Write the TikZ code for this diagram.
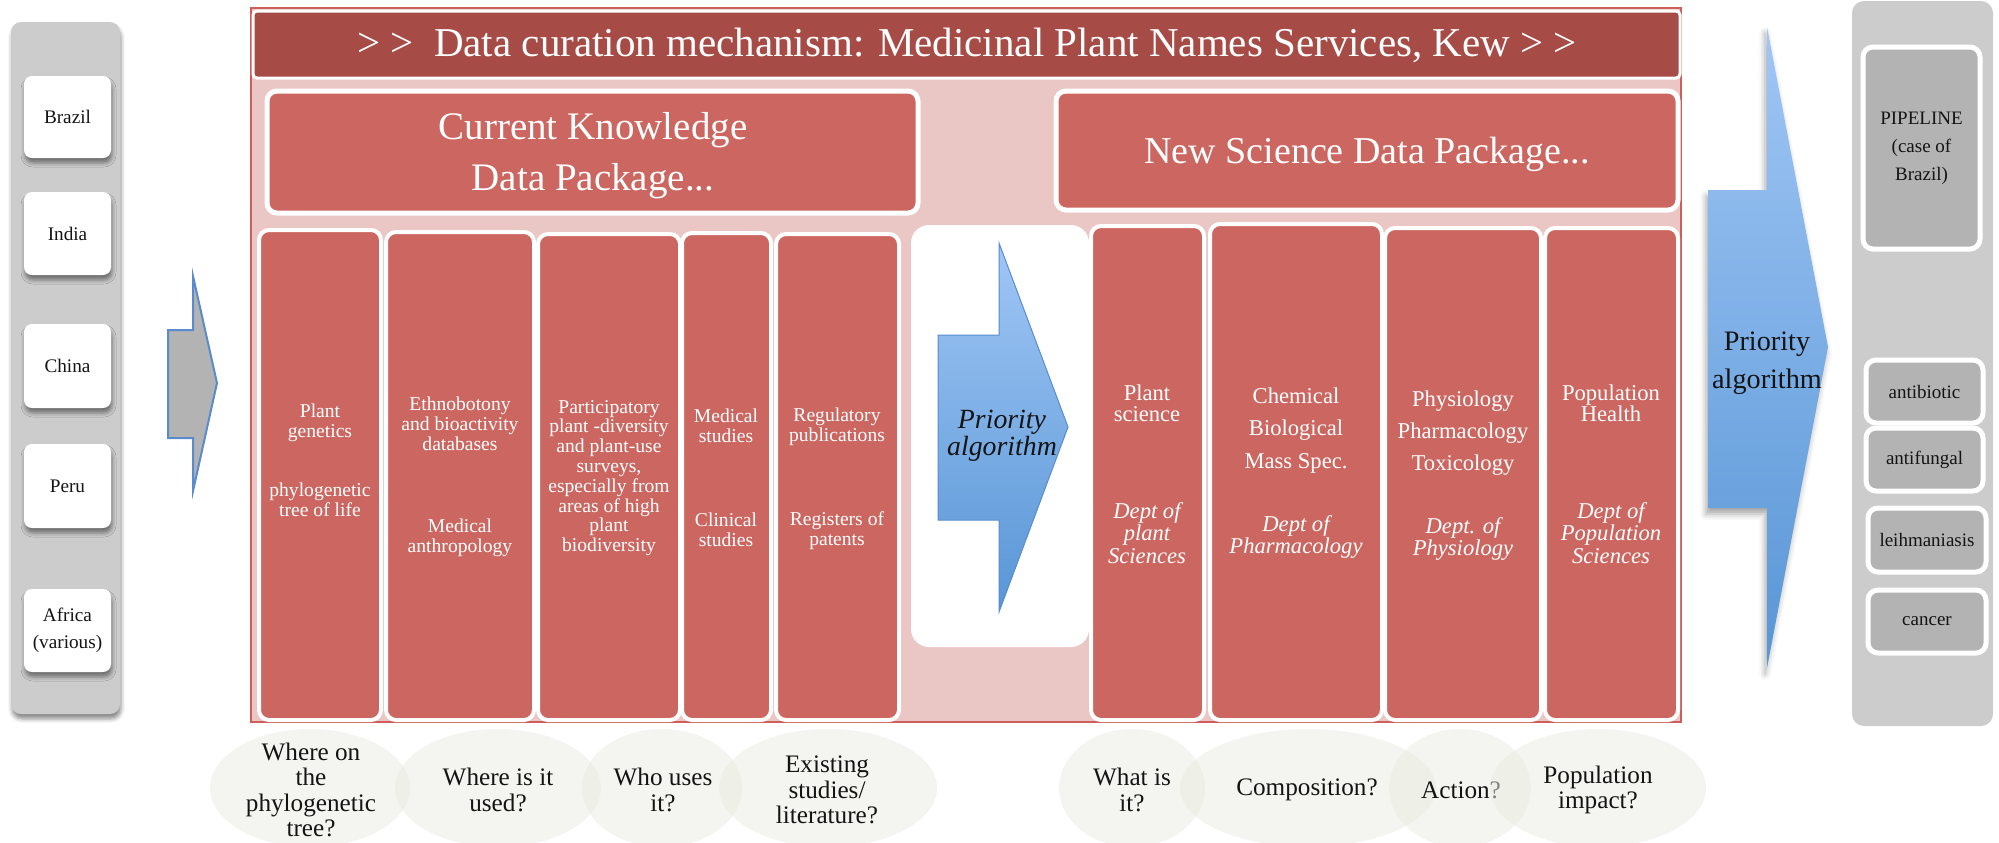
\documentclass[tikz,border=0pt]{standalone}
\usepackage{fontspec}
\setmainfont{Liberation Serif}
\usetikzlibrary{fit,shapes.geometric,shadows,shadows.blur}

\definecolor{kewdark}{RGB}{166,75,69}
\definecolor{kewred}{RGB}{204,102,96}
\definecolor{kewpink}{RGB}{234,198,197}
\definecolor{kewedge}{RGB}{205,95,90}
\definecolor{panelgray}{RGB}{204,204,204}
\definecolor{boxgray}{RGB}{179,179,179}
\definecolor{bluelite}{RGB}{160,198,245}
\definecolor{bluedark}{RGB}{88,150,214}
\definecolor{blueedge}{RGB}{88,140,205}
\definecolor{bubble}{RGB}{231,233,222}
\definecolor{ink}{RGB}{20,20,20}

\tikzset{
  softshadow/.style={blur shadow={shadow xshift=0.5pt, shadow yshift=-2.5pt,
      shadow blur radius=2pt, shadow opacity=45}},
  grouppanel/.style={fill=panelgray, draw=none, rounded corners=5pt, inner sep=0pt},
  country/.style={fill=white, draw=none, rounded corners=4pt, inner sep=0pt, softshadow},
  countrytext/.style={align=center, text=ink, inner sep=0pt, font=\fontsize{9.6}{13.5}\selectfont},
  curation/.style={fill=kewpink, draw=kewedge, line width=0.8pt, inner sep=0pt},
  titlebar/.style={fill=kewdark, draw=white, line width=1.5pt, rounded corners=2pt, inner sep=0pt},
  titletext/.style={text=white, inner sep=0pt, font=\fontsize{20.5}{24}\selectfont},
  package/.style={fill=kewred, draw=white, line width=2.5pt, rounded corners=5pt, inner sep=0pt},
  packagetext/.style={text=white, align=center, inner sep=0pt},
  column/.style={fill=kewred, draw=white, line width=2pt, rounded corners=5pt, inner sep=0pt},
  whitebox/.style={fill=white, draw=none, rounded corners=9pt, inner sep=0pt},
  coltext/.style={text=white, align=center, inner sep=0pt, font=\fontsize{9.8}{9.9}\selectfont},
  sciencetext/.style={text=white, align=center, inner sep=0pt},
  pipebox/.style={fill=boxgray, draw=white, line width=2.5pt, rounded corners=5pt, inner sep=0pt},
  pipetext/.style={align=center, text=ink, inner sep=0pt, font=\fontsize{9.5}{14}\selectfont},
  question/.style={ellipse, fill=bubble, fill opacity=0.45, draw=none, inner sep=0pt},
  qtext/.style={text=ink, align=center, inner sep=0pt, font=\fontsize{12.6}{12.8}\selectfont},
}

\begin{document}
\begin{tikzpicture}[x=0.5pt, y=-0.5pt]
\useasboundingbox (0,0) rectangle (1999,842);

% ---- source countries ----
\node[grouppanel, softshadow, fit={(11,22) (120,714)}] (sources) {};
\node[country, fit={(24,76) (111,158)}]  (brazil) {};
\node[country, fit={(24,192) (111,275)}] (india)  {};
\node[country, fit={(24,324) (111,408)}] (china)  {};
\node[country, fit={(24,444) (111,528)}] (peru)   {};
\node[country, fit={(24,589) (111,672)}] (africa) {};
\node[countrytext] (brazilt) at (brazil.center) {Brazil};
\node[countrytext] (indiat)  at (india.center)  {India};
\node[countrytext] (chinat)  at (china.center)  {China};
\node[countrytext] (perut)   at (peru.center)   {Peru};
\node[countrytext] (africat) at (africa.center) {Africa\\(various)};

% block arrow into the curation mechanism
\draw[fill=boxgray, draw=blueedge, line width=1pt, line join=miter]
  (168,330) -- (193,330) -- (193,276) -- (217,383) -- (193,491) -- (193,438) -- (168,438) -- cycle;

% ---- curation mechanism ----
\node[curation, fit={(251,8) (1681,722)}] (mechanism) {};
\node[titlebar, fit={(253,11) (1680,78)}] (title) {};
\node[titletext] (titlet) at (967,45)
  {> >\ \ Data curation mechanism: Medicinal Plant Names Services, Kew > >};

\node[package, fit={(267,91) (918,213)}] (current) {};
\node[package, fit={(1056,91) (1678,210)}] (newsci) {};
\node[packagetext, font=\fontsize{19.5}{25.5}\selectfont] (currentt) at (593,156)
  {Current Knowledge\\Data Package...};
\node[packagetext, font=\fontsize{19}{24}\selectfont] (newscit) at (1367,154)
  {New Science Data Package...};

% current knowledge columns
\node[column, fit={(259,230) (381,720)}] (c1) {};
\node[column, fit={(386,232) (534,720)}] (c2) {};
\node[column, fit={(538,234) (680,720)}] (c3) {};
\node[column, fit={(682,233) (771,720)}] (c4) {};
\node[column, fit={(776,234) (899,720)}] (c5) {};

\node[coltext] (t1a) at (320,423)   {Plant\\genetics};
\node[coltext] (t1b) at (320,499.5) {phylogenetic\\tree of life};
\node[coltext] (t2a) at (460,424)   {Ethnobotony\\and bioactivity\\databases};
\node[coltext] (t2b) at (460,537.5) {Medical\\anthropology};
\node[coltext] (t3)  at (609,478)   {Participatory\\plant -diversity\\and plant-use\\surveys,\\especially from\\areas of high\\plant\\biodiversity};
\node[coltext] (t4a) at (726,425.5) {Medical\\studies};
\node[coltext] (t4b) at (726,529.5) {Clinical\\studies};
\node[coltext] (t5a) at (837,426.5) {Regulatory\\publications};
\node[coltext] (t5b) at (837,531)   {Registers of\\patents};

% priority algorithm between the packages
\node[whitebox, fit={(911,225) (1089,647)}] (priobox) {};
\path[top color=bluelite, bottom color=bluedark, draw=blueedge, line width=0.5pt, line join=miter]
  (938,335) -- (999,335) -- (999,243) -- (1068,427) -- (999,612) -- (999,520) -- (938,520) -- cycle;
\node[text=ink, align=center, inner sep=0pt, font=\fontsize{13.9}{13.6}\selectfont\itshape]
  (priotext) at (1002,436) {Priority\\algorithm};

% new science columns
\node[column, fit={(1091,226) (1204,720)}] (c6) {};
\node[column, fit={(1210,224) (1382,720)}] (c7) {};
\node[column, fit={(1385,228) (1541,720)}] (c8) {};
\node[column, fit={(1545,228) (1678,720)}] (c9) {};

\node[sciencetext, font=\fontsize{11.3}{10.6}\selectfont] (t6a) at (1147,403.5) {Plant\\science};
\node[sciencetext, font=\fontsize{11.3}{11.4}\selectfont\itshape] (t6b) at (1147,533) {Dept of\\plant\\Sciences};
\node[sciencetext, font=\fontsize{11.3}{16.3}\selectfont] (t7a) at (1296,430.5) {Chemical\\Biological\\Mass Spec.};
\node[sciencetext, font=\fontsize{11.3}{11}\selectfont\itshape] (t7b) at (1296,537) {Dept of\\Pharmacology};
\node[sciencetext, font=\fontsize{11.3}{16}\selectfont] (t8a) at (1463,433.5) {Physiology\\Pharmacology\\Toxicology};
\node[sciencetext, font=\fontsize{11.3}{11}\selectfont\itshape] (t8b) at (1463,539) {Dept. of\\Physiology};
\node[sciencetext, font=\fontsize{11.3}{10.6}\selectfont] (t9a) at (1611,403.5) {Population\\Health};
\node[sciencetext, font=\fontsize{11.3}{11.4}\selectfont\itshape] (t9b) at (1611,533) {Dept of\\Population\\Sciences};

% ---- big priority arrow to the pipeline ----
\path[top color=bluelite, bottom color=bluedark, draw=none,
      blur shadow={shadow xshift=-1pt, shadow yshift=-3pt, shadow blur radius=3pt, shadow opacity=35}]
  (1708,190) -- (1767,190) -- (1767,27) -- (1828,347) -- (1767,668) -- (1767,508) -- (1708,508) -- cycle;
\node[text=ink, align=center, inner sep=0pt, font=\fontsize{14.1}{19}\selectfont]
  (bigprio) at (1767,363) {Priority\\algorithm};

% ---- pipeline ----
\node[grouppanel, rounded corners=6pt, fit={(1852,1) (1993,726)}] (pipeline) {};
\node[pipebox, fit={(1863,47) (1980,249)}]   (brazilcase) {};
\node[pipebox, fit={(1866,360) (1983,423)}]  (antibiotic) {};
\node[pipebox, fit={(1866,428) (1983,491)}]  (antifungal) {};
\node[pipebox, fit={(1868,508) (1986,572)}]  (leish)      {};
\node[pipebox, fit={(1868,590) (1986,653)}]  (cancer)     {};
\node[pipetext] (brazilcaset) at (brazilcase.center) {PIPELINE\\(case of\\Brazil)};
\node[pipetext] (antibiotict) at (antibiotic.center) {antibiotic};
\node[pipetext] (antifungalt) at (antifungal.center) {antifungal};
\node[pipetext] (leisht)      at (leish.center)      {leihmaniasis};
\node[pipetext] (cancert)     at (cancer.center)     {cancer};

% ---- guiding questions ----
\node[question, minimum width=100pt, minimum height=59pt] (q1) at (310,788) {};
\node[question, minimum width=103pt, minimum height=59pt] (q2) at (498,788) {};
\node[question, minimum width=80pt,  minimum height=59pt] (q3) at (662,788) {};
\node[question, minimum width=109pt, minimum height=59pt] (q4) at (828,788) {};
\node[question, minimum width=73pt,  minimum height=59pt] (q5) at (1132,788) {};
\node[question, minimum width=128pt, minimum height=59pt] (q6) at (1308,788) {};
\node[question, minimum width=71pt,  minimum height=59pt] (q7) at (1460,788) {};
\node[question, minimum width=108pt, minimum height=59pt] (q8) at (1598,788) {};

\node[qtext] (q1t) at (311,790) {Where on\\the\\phylogenetic\\tree?};
\node[qtext] (q2t) at (498,790) {Where is it\\used?};
\node[qtext] (q3t) at (663,790) {Who uses\\it?};
\node[qtext] (q4t) at (827,790) {Existing\\studies/\\literature?};
\node[qtext] (q5t) at (1132,790) {What is\\it?};
\node[qtext] (q6t) at (1307,790) {Composition?};
\node[qtext] (q7t) at (1461,790) {Action{\color{gray}?}};
\node[qtext] (q8t) at (1598,790) {Population\\impact?};

\end{tikzpicture}
\end{document}
